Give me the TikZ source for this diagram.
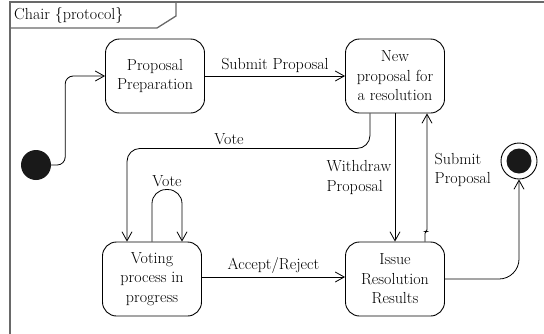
\documentclass[tikz,border=0pt]{standalone}
\usetikzlibrary{arrows.meta}

\tikzset{
    statebox/.style={draw, line width=0.9pt, rounded corners=14pt, minimum width=99pt, minimum height=74pt, align=center, inner sep=1pt},
    trans/.style={draw, line width=0.8pt, -{Straight Barb[length=9pt, width=10pt]}},
    framecol/.style={draw={rgb,255:red,105;green,105;blue,105}, line width=1.3pt},
}

\begin{document}
\begin{tikzpicture}[x=1pt, y=-1pt, font=\fontsize{16}{19.5}\selectfont]
    \useasboundingbox (0, 0) rectangle (544, 333);
    \clip (0, 0) rectangle (544, 333);
    \draw [framecol] (10, 345) -- (10, 2) -- (550, 2);
    \draw [framecol] (10, 28) -- (157, 28) -- (176, 16) -- (176, 2);
    \node [anchor=west, inner sep=0pt] (title) at (14, 15) {Chair \{protocol\}};

    \node [circle, fill=black!90, minimum size=30pt, inner sep=0pt] (init) at (36, 165) {};
    \node [statebox] (prep) at (155, 76) {Proposal\\Preparation};
    \node [statebox] (newp) at (395, 76) {New\\proposal for\\a resolution};
        \node [statebox] (vote) at (152, 279) {Voting\\process in\\progress};
        \node [statebox] (issue) at (395, 279) {Issue\\Resolution\\Results};
    \node [circle, draw, line width=0.9pt, minimum size=36pt, inner sep=0pt] (final) at (519, 161) {};
    \fill [black!90] (final.center) circle (12.5pt);

    \draw [trans, rounded corners=8pt] (init.east) -- ++(14, 0) |- (prep.west);
    \draw [trans] (prep) -- node[above] {Submit Proposal} (newp);
    \draw [trans, rounded corners=13pt] ([xshift=-25pt]newp.south) -- ++(0, 35) -| node[pos=0.29, above] {Vote} ([xshift=-25pt]vote.north);
        \draw [trans, rounded corners=14pt] (vote.north) -- ++(0, -52) -| node[pos=0.25, above, inner sep=2pt] {Vote} ([xshift=30pt]vote.north);
    \draw [trans] (newp) -- node[left, align=left, pos=0.5] {Withdraw\\Proposal} (issue);
    \draw [trans, rounded corners=2pt] ([xshift=30pt]issue.north) -- ++(0, -10) -| node[pos=0.76, right, align=left, xshift=4pt] {Submit\\Proposal} ([xshift=32pt]newp.south);
    \draw [trans] ([yshift=2pt]vote.east) -- node[above] {Accept/Reject} ([yshift=2pt]issue.west);
    \draw [trans, rounded corners=20pt] (issue.east) -| (final.south);
\end{tikzpicture}
\end{document}
